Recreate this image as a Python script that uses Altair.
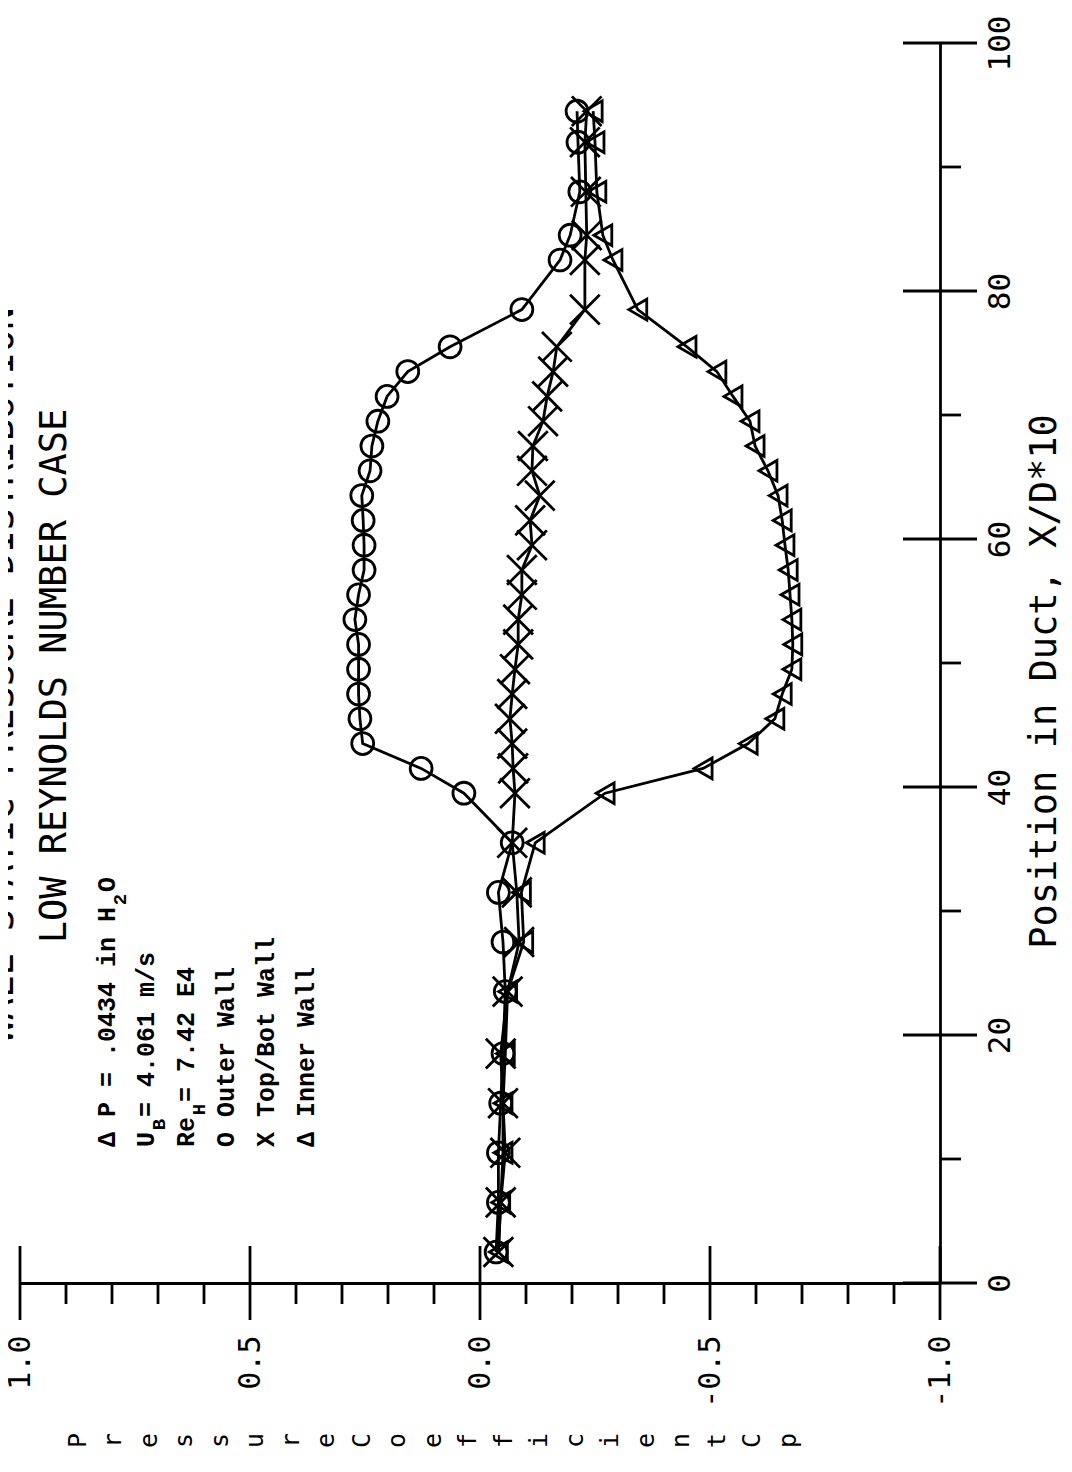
import altair as alt
import pandas as pd

# ---------------- data ----------------
positions = [2.5, 6.5, 10.5, 14.5, 18.5, 23.5, 27.5, 31.5, 35.5, 39.5, 41.5, 43.5,
             45.5, 47.5, 49.5, 51.5, 53.5, 55.5, 57.5, 59.5, 61.5, 63.5, 65.5, 67.5,
             69.5, 71.5, 73.5, 75.5, 78.5, 82.5, 84.5, 88.0, 92.0, 94.5]

outer_cp = [-0.035, -0.04, -0.04, -0.045, -0.05, -0.055, -0.05, -0.04, -0.07, 0.035,
            0.128, 0.255, 0.261, 0.264, 0.264, 0.264, 0.272, 0.264, 0.252, 0.252,
            0.254, 0.257, 0.239, 0.235, 0.222, 0.202, 0.157, 0.065, -0.091, -0.174,
            -0.196, -0.217, -0.213, -0.211]

topbot_cp = [-0.04, -0.045, -0.055, -0.05, -0.045, -0.06, -0.085, -0.08, -0.07, -0.076,
             -0.072, -0.07, -0.065, -0.07, -0.076, -0.083, -0.083, -0.091, -0.091, -0.113,
             -0.109, -0.13, -0.113, -0.115, -0.137, -0.146, -0.159, -0.167, -0.228, -0.228,
             -0.232, -0.23, -0.228, -0.232]

inner_cp = [-0.04, -0.045, -0.05, -0.05, -0.055, -0.06, -0.095, -0.09, -0.12, -0.272,
            -0.485, -0.583, -0.641, -0.657, -0.678, -0.68, -0.678, -0.674, -0.67, -0.663,
            -0.657, -0.648, -0.626, -0.598, -0.587, -0.55, -0.515, -0.45, -0.343, -0.289,
            -0.267, -0.254, -0.25, -0.246]

series_names = ["Outer Wall", "Top/Bot Wall", "Inner Wall"]

cp_label_values = [-1.0, -0.5, 0.0, 0.5, 1.0]
cp_minor_ticks = [-0.9, -0.8, -0.7, -0.6, -0.4, -0.3, -0.2, -0.1,
                  0.1, 0.2, 0.3, 0.4, 0.6, 0.7, 0.8, 0.9]
pos_label_values = [0, 20, 40, 60, 80, 100]
pos_minor_ticks = [10, 30, 50, 70, 90]

title_lines = ["WALL STATIC PRESSURE DISTRIBUTION", "LOW REYNOLDS NUMBER CASE"]
cp_title_letters = list("Pressure") + [" "] + list("Coefficient") + [" "] + list("Cp")
pos_title = "Position in Duct, X/D*10"

legend_main = ["\u0394 P = .0434 in H O", "U  = 4.061 m/s", "Re  = 7.42 E4",
               "O Outer Wall", "X Top/Bot Wall", "\u0394 Inner Wall"]
legend_subs = [("2", 0, 16), ("B", 1, 1), ("H", 2, 2)]   # (text, line, cell)

# ---------------- layout ----------------
W, H = 920, 1240
BLACK = "black"
SW = 2.8

rows = []
for name, vals in zip(series_names, [outer_cp, topbot_cp, inner_cp]):
    for p, v in zip(positions, vals):
        rows.append({"series": name, "pos": p, "cp": v})
df = pd.DataFrame(rows)

xs = alt.Scale(domain=[-1.0, 1.0], reverse=True, nice=False, zero=False)
ys = alt.Scale(domain=[0, 100], nice=False, zero=False)

mono = "DejaVu Sans Mono"

x_axis = alt.Axis(
    values=cp_label_values, ticks=False, grid=False, domain=True,
    domainColor=BLACK, domainWidth=SW,
    labelAngle=270, labelAlign="right", labelBaseline="middle", labelPadding=52,
    labelFont=mono, labelFontSize=30, labelColor=BLACK,
    labelFlush=False, labelOverlap=False, labelBound=False,
    labelExpr="(datum.value < 0 ? '-' : '') + format(abs(datum.value), '.1f')",
    title=cp_title_letters, titleAngle=270, titleAlign="center", titleBaseline="top",
    titleX=45, titleY=157, titleFont=mono, titleFontSize=25,
    titleFontWeight="normal", titleLineHeight=35.5, titleColor=BLACK,
)
y_axis = alt.Axis(
    orient="right", values=pos_label_values, ticks=False, grid=False, domain=True,
    domainColor=BLACK, domainWidth=SW,
    labelAngle=270, labelAlign="center", labelBaseline="top", labelPadding=45,
    labelFont=mono, labelFontSize=31, labelColor=BLACK,
    labelFlush=False, labelOverlap=False, labelBound=False,
    title=pos_title, titleAngle=270, titleAlign="center", titleBaseline="middle",
    titleX=104, titleY=638, titleFont=mono, titleFontSize=37,
    titleFontWeight="normal", titleColor=BLACK,
)

X = alt.X("cp:Q", scale=xs, axis=x_axis)
Y = alt.Y("pos:Q", scale=ys, axis=y_axis)

base = alt.Chart(df)
lines = base.mark_line(color=BLACK, strokeWidth=SW).encode(
    x=X, y=Y, detail="series:N", order="pos:Q",
)

def pts(name, shape, size):
    return base.transform_filter(alt.datum.series == name).mark_point(
        shape=shape, size=size, filled=False, stroke=BLACK, strokeWidth=SW, opacity=1
    ).encode(x=X, y=Y)

p_outer = pts("Outer Wall", "circle", 480)
p_top = pts("Top/Bot Wall", "M-1,-1L1,1M-1,1L1,-1", 880)
p_inner = pts("Inner Wall", "triangle-left", 430)

# ---------------- axis ticks (rules) ----------------
def xrule(vals, y0, y1):
    return alt.Chart(pd.DataFrame({"cp": vals})).mark_rule(color=BLACK, strokeWidth=SW).encode(
        x=X, y=alt.value(y0), y2=alt.value(y1))

def yrule(vals, x0, x1):
    return alt.Chart(pd.DataFrame({"pos": vals})).mark_rule(color=BLACK, strokeWidth=SW).encode(
        y=Y, x=alt.value(x0), x2=alt.value(x1))

ticks = [
    xrule(cp_label_values, H - 37, H + 37),
    xrule(cp_minor_ticks, H, H + 21),
    yrule(pos_label_values, W - 37, W + 37),
    yrule(pos_minor_ticks, W, W + 21),
]

# ---------------- annotations (placed in data units) ----------------
def px_to_cp(px):
    return (480 - px) / 460.0

def py_to_pos(py):
    return (1283 - py) / 12.4

title_df = pd.DataFrame({
    "text": title_lines,
    "cp": [px_to_cp(2), px_to_cp(55)],
    "pos": [py_to_pos(675), py_to_pos(676)],
})
title_layer = alt.Chart(title_df).mark_text(
    angle=270, align="center", baseline="middle",
    font=mono, fontSize=37, color=BLACK,
).encode(x=X, y=Y, text="text:N")

leg_x = [107, 146, 186, 226, 266, 306]
leg_start_y = 1147
adv = 15.0
leg_df = pd.DataFrame({
    "text": legend_main,
    "cp": [px_to_cp(v) for v in leg_x],
    "pos": [py_to_pos(leg_start_y)] * len(legend_main),
})
leg_layer = alt.Chart(leg_df).mark_text(
    angle=270, align="left", baseline="middle", font="Liberation Mono",
    fontSize=25, fontWeight="bold", color=BLACK,
).encode(x=X, y=Y, text="text:N")

sub_df = pd.DataFrame({
    "text": [s[0] for s in legend_subs],
    "cp": [px_to_cp(leg_x[s[1]] + 13) for s in legend_subs],
    "pos": [py_to_pos(leg_start_y - (s[2] + 0.5) * adv) for s in legend_subs],
})
sub_layer = alt.Chart(sub_df).mark_text(
    angle=270, align="center", baseline="middle", font="Liberation Mono",
    fontSize=19, fontWeight="bold", color=BLACK,
).encode(x=X, y=Y, text="text:N")

chart = alt.layer(
    lines, p_outer, p_top, p_inner, *ticks, title_layer, leg_layer, sub_layer
).properties(
    width=W, height=H,
    autosize=alt.AutoSizeParams(type="none"),
    padding={"left": 12, "top": 35, "right": 124, "bottom": 175},
    background="white",
).configure_view(stroke=None)

chart.save("out.html", embed_options={"renderer": "svg", "actions": False})
